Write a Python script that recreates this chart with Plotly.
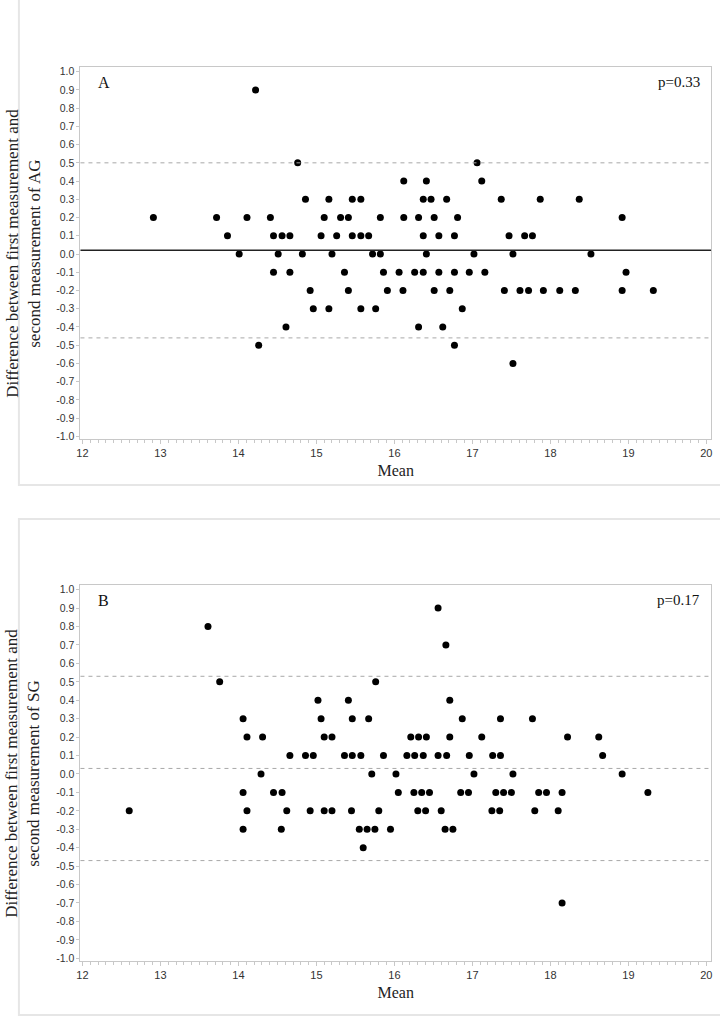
import plotly.graph_objects as go

# ---------------- data ----------------
A_mean = [14.76, 17.06,
          16.12, 16.41, 17.12,
          14.86, 15.16, 15.46, 15.57, 16.37, 16.47, 16.67, 17.37, 17.87, 18.37,
          12.91, 13.72, 14.11, 14.41, 15.10, 15.31, 15.41, 15.82, 16.12, 16.31, 16.51, 16.81, 18.92,
          13.86, 14.45, 14.56, 14.66, 15.06, 15.26, 15.46, 15.57, 15.67, 16.37, 16.57, 16.77, 17.47, 17.67, 17.77,
          14.01, 14.51, 14.82, 15.20, 15.72, 15.82, 16.41, 17.02, 17.52, 18.52,
          14.45, 14.66, 15.36, 15.86, 16.06, 16.26, 16.37, 16.57, 16.77, 16.96, 17.16, 18.97,
          14.92, 15.41, 15.91, 16.11, 16.51, 16.71, 17.41, 17.61, 17.72, 17.91, 18.12, 18.32, 18.92, 19.32,
          14.96, 15.16, 15.57, 15.76, 16.87,
          14.61, 16.31, 16.62,
          14.26, 16.77,
          17.52,
          14.22]
A_diff = [0.5, 0.5,
          0.4, 0.4, 0.4,
          0.3, 0.3, 0.3, 0.3, 0.3, 0.3, 0.3, 0.3, 0.3, 0.3,
          0.2, 0.2, 0.2, 0.2, 0.2, 0.2, 0.2, 0.2, 0.2, 0.2, 0.2, 0.2, 0.2,
          0.1, 0.1, 0.1, 0.1, 0.1, 0.1, 0.1, 0.1, 0.1, 0.1, 0.1, 0.1, 0.1, 0.1, 0.1,
          0.0, 0.0, 0.0, 0.0, 0.0, 0.0, 0.0, 0.0, 0.0, 0.0,
          -0.1, -0.1, -0.1, -0.1, -0.1, -0.1, -0.1, -0.1, -0.1, -0.1, -0.1, -0.1,
          -0.2, -0.2, -0.2, -0.2, -0.2, -0.2, -0.2, -0.2, -0.2, -0.2, -0.2, -0.2, -0.2, -0.2,
          -0.3, -0.3, -0.3, -0.3, -0.3,
          -0.4, -0.4, -0.4,
          -0.5, -0.5,
          -0.6,
          0.9]

B_mean = [16.56, 13.61, 16.66,
          13.76, 15.76,
          15.02, 15.41, 16.71,
          14.06, 15.06, 15.46, 15.67, 16.87, 17.36, 17.77,
          14.11, 14.31, 15.10, 15.20, 16.21, 16.31, 16.41, 16.71, 17.12, 18.22, 18.62,
          14.66, 14.86, 14.96, 15.36, 15.46, 15.57, 15.86, 16.16, 16.26, 16.37, 16.56, 16.67, 16.96, 17.26, 17.36, 18.67,
          14.29, 15.71, 16.02, 17.02, 17.52, 18.92,
          14.06, 14.45, 14.56, 16.05, 16.25, 16.35, 16.45, 16.85, 16.95, 17.30, 17.40, 17.50, 17.85, 17.95, 18.15, 19.25,
          12.60, 14.11, 14.62, 14.92, 15.10, 15.20, 15.45, 15.80, 16.30, 16.40, 16.60, 17.25, 17.35, 17.80, 18.10,
          14.06, 14.55, 15.55, 15.65, 15.75, 15.95, 16.65, 16.75,
          15.60,
          18.15]
B_diff = [0.9, 0.8, 0.7,
          0.5, 0.5,
          0.4, 0.4, 0.4,
          0.3, 0.3, 0.3, 0.3, 0.3, 0.3, 0.3,
          0.2, 0.2, 0.2, 0.2, 0.2, 0.2, 0.2, 0.2, 0.2, 0.2, 0.2,
          0.1, 0.1, 0.1, 0.1, 0.1, 0.1, 0.1, 0.1, 0.1, 0.1, 0.1, 0.1, 0.1, 0.1, 0.1, 0.1,
          0.0, 0.0, 0.0, 0.0, 0.0, 0.0,
          -0.1, -0.1, -0.1, -0.1, -0.1, -0.1, -0.1, -0.1, -0.1, -0.1, -0.1, -0.1, -0.1, -0.1, -0.1, -0.1,
          -0.2, -0.2, -0.2, -0.2, -0.2, -0.2, -0.2, -0.2, -0.2, -0.2, -0.2, -0.2, -0.2, -0.2, -0.2,
          -0.3, -0.3, -0.3, -0.3, -0.3, -0.3, -0.3, -0.3,
          -0.4,
          -0.7]

A_bias, A_upper, A_lower = 0.02, 0.50, -0.46
B_bias, B_upper, B_lower = 0.03, 0.53, -0.47

x_ticks = [12, 13, 14, 15, 16, 17, 18, 19, 20]
y_ticks = [round(-1.0 + 0.1 * i, 1) for i in range(21)]
y_ticklabels = ["%.1f" % v for v in y_ticks]

# ---------------- layout helpers ----------------
W, H = 720, 1019
def px(x):
    return x / W
def py(y):
    return 1 - y / H

PLOT_L, PLOT_R = 77, 712
A_TOP, A_BOT = 66, 440
B_TOP, B_BOT = 586, 964

SERIF = "Liberation Serif, Times New Roman, serif"
SANS = "Liberation Sans Narrow, Arial Narrow, Liberation Sans, Arial, sans-serif"
FRAME = "#c8c8c8"
DASH = "#a8a8a8"

fig = go.Figure()
fig.add_trace(go.Scatter(x=A_mean, y=A_diff, mode="markers", xaxis="x", yaxis="y",
                         marker=dict(color="black", size=7), showlegend=False))
fig.add_trace(go.Scatter(x=B_mean, y=B_diff, mode="markers", xaxis="x2", yaxis="y2",
                         marker=dict(color="black", size=7), showlegend=False))

common_x = dict(range=[11.975, 20.06], tickvals=x_ticks, ticks="outside", ticklen=4,
                tickcolor=FRAME, showgrid=False, zeroline=False, showline=True,
                linecolor=FRAME, mirror=True,
                minor=dict(dtick=0.1, ticks="outside", ticklen=3, tickcolor=FRAME),
                tickfont=dict(family=SANS, size=11, color="#333333"),
                title=dict(text="Mean", font=dict(family=SERIF, size=16, color="#222222"),
                           standoff=6))
common_y = dict(range=[-1.016, 1.027], tickvals=y_ticks, ticktext=y_ticklabels,
                ticks="outside", ticklen=3, tickcolor=FRAME, showgrid=False,
                zeroline=False, showline=True, linecolor=FRAME, mirror=True,
                tickfont=dict(family=SANS, size=10.5, color="#333333"))

fig.update_layout(
    width=W, height=H, margin=dict(l=0, r=0, t=0, b=0),
    paper_bgcolor="white", plot_bgcolor="white",
    xaxis=dict(domain=[px(PLOT_L), px(PLOT_R)], anchor="y", **common_x),
    yaxis=dict(domain=[py(A_BOT), py(A_TOP)], anchor="x", **common_y),
    xaxis2=dict(domain=[px(PLOT_L), px(PLOT_R)], anchor="y2", **common_x),
    yaxis2=dict(domain=[py(B_BOT), py(B_TOP)], anchor="x2", **common_y),
)

shapes = []
# outer panel boxes
shapes.append(dict(type="rect", xref="paper", yref="paper", x0=px(15), x1=px(725),
                   y0=py(486), y1=1.02, line=dict(color="#e6e6e6", width=2)))
shapes.append(dict(type="rect", xref="paper", yref="paper", x0=px(15), x1=px(725),
                   y0=py(1018), y1=py(520), line=dict(color="#e6e6e6", width=2)))
# reference lines
shapes.append(dict(type="line", xref="x domain", yref="y", x0=0, x1=1, y0=A_bias, y1=A_bias,
                   line=dict(color="#222222", width=1.5)))
for v in (A_upper, A_lower):
    shapes.append(dict(type="line", xref="x domain", yref="y", x0=0, x1=1, y0=v, y1=v,
                       line=dict(color=DASH, width=1, dash="4px,4px")))
for v in (B_upper, B_bias, B_lower):
    shapes.append(dict(type="line", xref="x2 domain", yref="y2", x0=0, x1=1, y0=v, y1=v,
                       line=dict(color=DASH, width=1, dash="4px,4px")))
fig.update_layout(shapes=shapes)

ann = []
for lab, pv, xr, yr, top, bot, g in (("A", "p=0.33", "x domain", "y domain", A_TOP, A_BOT, "AG"),
                                     ("B", "p=0.17", "x2 domain", "y2 domain", B_TOP, B_BOT, "SG")):
    ann.append(dict(text=lab, xref=xr, yref=yr, x=0.024, y=0.985, xanchor="left", yanchor="top",
                    showarrow=False, font=dict(family=SERIF, size=16, color="#111111")))
    ann.append(dict(text=pv, xref=xr, yref=yr, x=0.985, y=0.985, xanchor="right", yanchor="top",
                    showarrow=False, font=dict(family=SERIF, size=15, color="#111111")))
    ann.append(dict(text="Difference between first measurement and<br>second measurement of " + g,
                    xref="paper", yref="paper", x=px(19), y=py((top + bot) / 2),
                    xanchor="center", yanchor="middle", textangle=-90, showarrow=False,
                    font=dict(family=SERIF, size=17, color="#222222")))
fig.update_layout(annotations=ann)

fig.write_html("out.html", config={"displayModeBar": False},
               post_script="document.body.style.margin='0px';document.body.style.overflow='hidden';")
